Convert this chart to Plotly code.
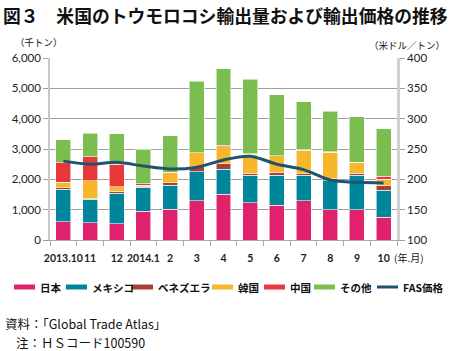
import plotly.graph_objects as go

months = ["2013.10", "11", "12", "2014.1", "2", "3", "4", "5", "6", "7", "8", "9", "10"]
japan = [610, 570, 540, 955, 1020, 1300, 1505, 1230, 1140, 1300, 1000, 1000, 750]
mexico = [1060, 770, 1000, 785, 780, 950, 825, 900, 990, 830, 960, 1130, 890]
venezuela = [55, 20, 60, 40, 90, 170, 190, 60, 110, 60, 60, 70, 170]
korea = [185, 600, 150, 20, 330, 450, 550, 645, 530, 770, 880, 360, 200]
china = [640, 780, 750, 60, 20, 10, 60, 15, 10, 10, 10, 10, 100]
other = [750, 780, 1010, 1140, 1200, 2350, 2520, 2450, 2010, 1580, 1340, 1490, 1560]
fas_price = [230, 225, 228, 222, 217, 220, 232, 238, 225, 216, 199, 195, 194]

series = [
    ("日本", japan, "#e0226c"),
    ("メキシコ", mexico, "#00869b"),
    ("ベネズエラ", venezuela, "#a8403a"),
    ("韓国", korea, "#f8b62b"),
    ("中国", china, "#e8383b"),
    ("その他", other, "#7bbd4f"),
]
line_color = "#1f5470"

FONT = "Lato, Noto Sans CJK JP, sans-serif"
JFONT = "Noto Sans CJK JP, sans-serif"

W, H = 450, 351
L, R, T, B = 50, 53, 58, 111
pw, ph = W - L - R, H - T - B

fig = go.Figure()
for name, vals, col in series:
    fig.add_trace(go.Bar(
        x=months, y=vals, name=name, marker_color=col,
        marker_line_color="rgba(255,255,255,0.7)", marker_line_width=0.8,
        showlegend=False,
    ))
fig.add_trace(go.Scatter(
    x=months, y=fas_price, yaxis="y2", mode="lines", name="FAS価格",
    line=dict(color=line_color, width=3, shape="spline", smoothing=0.8),
    showlegend=False,
))

fig.update_layout(
    width=W, height=H,
    margin=dict(l=L, r=R, t=T, b=B),
    paper_bgcolor="white", plot_bgcolor="white",
    barmode="stack", bargap=0.44,
    font=dict(family=FONT, size=11, color="#222"),
    xaxis=dict(
        type="category", tickson="boundaries", ticks="outside", ticklen=5,
        tickcolor="#aaa", showline=True, linecolor="#aaa", linewidth=1,
        tickfont=dict(size=10.5, family=FONT, color="#222", weight="bold"),
        tickangle=0, showgrid=False, ticklabelstandoff=8,
    ),
    yaxis=dict(
        range=[0, 6000], dtick=1000, tickformat=",", showgrid=True,
        gridcolor="#a0a0a0", gridwidth=1, ticks="outside", ticklen=5,
        tickcolor="#a0a0a0", showline=True, linecolor="#c8c8c8", linewidth=1.5,
        tickfont=dict(size=11.5, family=FONT, color="#222"), zeroline=False,
    ),
    yaxis2=dict(
        range=[100, 400], dtick=50, overlaying="y", side="right",
        showgrid=False, ticks="outside", ticklen=5, tickcolor="#a0a0a0",
        showline=True, linecolor="#cfcfcf", linewidth=2.5,
        tickfont=dict(size=11.5, family=FONT, color="#222"), zeroline=False,
    ),
)

ann = []
shapes = []

def px2paper(x, y):
    return (x - L) / pw, (H - B - y) / ph

def text(x, y, s, size, xanchor="left", bold=False, family=JFONT):
    px, py = px2paper(x, y)
    ann.append(dict(x=px, y=py, xref="paper", yref="paper", text=(f"<b>{s}</b>" if bold else s),
                    showarrow=False, xanchor=xanchor, yanchor="middle",
                    font=dict(size=size, family=family, color="#111")))

text(225, 15, "図３　米国のトウモロコシ輸出量および輸出価格の推移", 17.8, "center", bold=True)
text(13, 42, "（千トン）", 9.5)
text(447, 45, "（米ドル／トン）", 9.5, "right")
text(392, 257, "(年.月)", 10)

legend_items = [(n, c, "bar") for n, _, c in series] + [("FAS価格", line_color, "line")]
lx = [14, 66, 132, 212, 264, 314, 377]
ly = 287
for (name, col, kind), x0 in zip(legend_items, lx):
    sw = 21
    a0, b0 = px2paper(x0, ly)
    a1, _ = px2paper(x0 + sw, ly)
    if kind == "bar":
        _, yb0 = px2paper(0, ly + 2.5)
        _, yb1 = px2paper(0, ly - 2.5)
        shapes.append(dict(type="rect", xref="paper", yref="paper", x0=a0, x1=a1,
                           y0=yb0, y1=yb1, fillcolor=col, line=dict(width=0)))
    else:
        shapes.append(dict(type="line", xref="paper", yref="paper", x0=a0, x1=a1,
                           y0=b0, y1=b0, line=dict(color=col, width=3)))
    text(x0 + sw + 3, ly, name, 10.5, bold=True)

text(3, 323, "資料：「Global Trade Atlas」", 12.5)
text(14, 342, "注：ＨＳコード100590", 12.5)

fig.update_layout(annotations=ann, shapes=shapes)
fig.write_html("out.html")
